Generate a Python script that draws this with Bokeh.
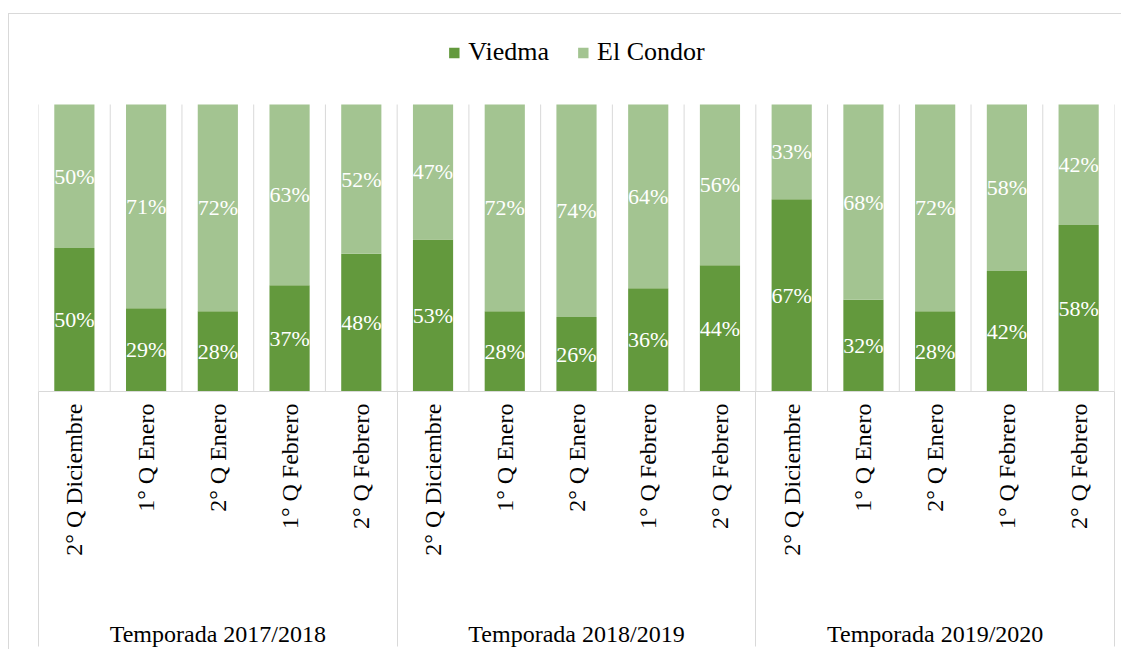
import math
from bokeh.plotting import figure
from bokeh.models import Range1d, FixedTicker, LinearAxis, Legend, LegendItem, ColumnDataSource
from bokeh.core.properties import value
from bokeh.embed import file_html
from bokeh.resources import INLINE

# ---- data ----
seasons = ["Temporada 2017/2018", "Temporada 2018/2019", "Temporada 2019/2020"]
periods = ["2° Q Diciembre", "1° Q Enero", "2° Q Enero", "1° Q Febrero", "2° Q Febrero"]
series_names = ["Viedma", "El Condor"]
viedma = [50, 29, 28, 37, 48, 53, 28, 26, 36, 44, 67, 32, 28, 42, 58]
el_condor = [50, 71, 72, 63, 52, 47, 72, 74, 64, 56, 33, 68, 72, 58, 42]
colors = ["#63993d", "#a3c491"]

FONT = "Liberation Serif"
GRID = "#d9d9d9"

n = len(viedma)
per = len(periods)
xs = [i + 0.5 for i in range(n)]
cat_labels = [pd for s in seasons for pd in periods]
bounds = list(range(n + 1))

# layout: bars occupy the lower PLOT_H px of the frame; the rest holds the legend
PLOT_H = 287
FRAME_H = 377
y_top = 100 * FRAME_H / PLOT_H

src = ColumnDataSource(dict(x=xs, viedma=viedma, el_condor=el_condor))

p = figure(frame_width=1076, frame_height=FRAME_H, output_backend="svg",
           toolbar_location=None, x_range=Range1d(0, n), y_range=Range1d(0, y_top),
           min_border_left=38, min_border_right=7, min_border_top=14,
           min_border_bottom=254, x_axis_location=None, y_axis_location=None)
p.outline_line_color = None
p.background_fill_color = None
p.border_fill_color = None
p.xgrid.visible = False
p.ygrid.visible = False
# outer chart border (top and left edges of the chart area)
p.styles = {
    "background-color": "white",
    "background-image": "linear-gradient(#d9d9d9,#d9d9d9), linear-gradient(#d9d9d9,#d9d9d9)",
    "background-position": "8px 13px, 8px 13px",
    "background-size": "100% 1px, 1px 100%",
    "background-repeat": "no-repeat, no-repeat",
}

# vertical gridlines at every category boundary (0 % .. 100 %)
p.segment(x0=bounds, y0=[0] * len(bounds), x1=bounds, y1=[100] * len(bounds),
          line_color=GRID, line_width=1)

renderers = p.vbar_stack(["viedma", "el_condor"], x="x", width=0.56,
                         color=colors, line_color=None, source=src)

# data labels
lab_x, lab_y, lab_t = [], [], []
for i in range(n):
    lab_x += [xs[i], xs[i]]
    lab_y += [viedma[i] / 2, viedma[i] + el_condor[i] / 2]
    lab_t += [f"{viedma[i]}%", f"{el_condor[i]}%"]
p.text(x=lab_x, y=lab_y, text=lab_t, text_color="white",
       text_font=value(FONT), text_font_size="22px",
       text_align="center", text_baseline="middle")

# category axis; its minor ticks are the season separators below the plot
SEP = 255
cat_axis = LinearAxis(
    ticker=FixedTicker(ticks=xs, minor_ticks=[k * per for k in range(len(seasons) + 1)]),
    major_label_overrides={xs[i]: cat_labels[i] for i in range(n)},
    major_label_orientation=math.pi / 2,
    major_label_text_font=FONT, major_label_text_font_size="24px",
    major_label_text_color="black", major_label_standoff=12 - SEP,
    major_tick_line_color=None, major_tick_out=0, major_tick_in=0,
    minor_tick_line_color=GRID, minor_tick_out=SEP, minor_tick_in=0,
    axis_line_color=GRID)
p.add_layout(cat_axis, "below")

# season axis
group_x = [k * per + per / 2 for k in range(len(seasons))]
grp_axis = LinearAxis(
    ticker=FixedTicker(ticks=group_x, minor_ticks=[]),
    major_label_overrides={group_x[k]: seasons[k] for k in range(len(seasons))},
    major_label_text_font=FONT, major_label_text_font_size="24px",
    major_label_text_color="black", major_label_standoff=62,
    major_tick_line_color=None, major_tick_out=0, major_tick_in=0,
    minor_tick_line_color=None, axis_line_color=None)
p.add_layout(grp_axis, "below")

# legend
legend = Legend(items=[LegendItem(label=series_names[k], renderers=[renderers[k]])
                       for k in range(2)],
                orientation="horizontal", location="top_center",
                label_text_font=FONT, label_text_font_size="26px",
                label_text_color="black", glyph_width=13, glyph_height=13,
                label_standoff=8, spacing=27, padding=0, margin=23,
                border_line_color=None, background_fill_alpha=0)
p.add_layout(legend, "center")

open("out.html", "w").write(file_html(p, INLINE))
